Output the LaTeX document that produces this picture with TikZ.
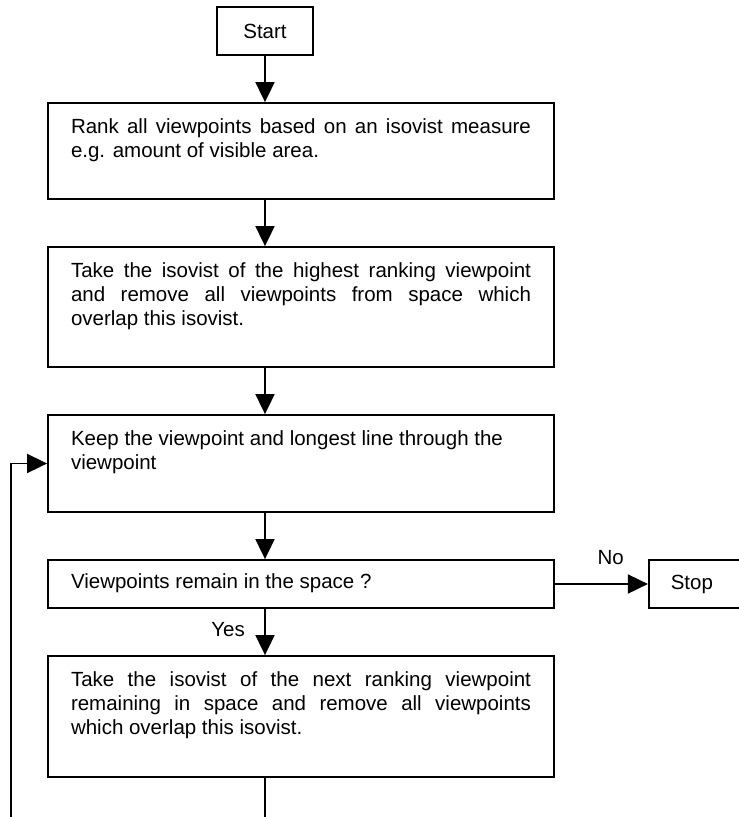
\documentclass[tikz,border=0pt]{standalone}
\usepackage{fontspec}
\setmainfont{Liberation Sans}
\usetikzlibrary{positioning,arrows.meta}

\newcommand{\boxtext}[2]{\parbox[t][#1][t]{460pt}{\hyphenpenalty=10000\tolerance=9999\hbadness=10000\strut #2}}

\begin{document}
\begin{tikzpicture}[x=1pt,y=-1pt,node distance=46.2pt,
    every node/.style={font=\fontsize{20.5pt}{24pt}\selectfont},
    stepbox/.style={draw,line width=1.8pt,inner xsep=23pt,inner ysep=13.2pt},
    flow/.style={line width=1.8pt,-{Triangle[length=20pt,width=19pt]}}]
    \clip (0,0) rectangle (739,817);
    % Process boxes
    \node[draw,line width=1.8pt,minimum width=96pt,minimum height=48pt] (start) at (265,31) {Start};
    \node[stepbox,below=of start,xshift=36pt] (rank) {\boxtext{69.6pt}{Rank all viewpoints based on an isovist measure e.g. amount of visible area.}};
    \node[stepbox,below=of rank] (take) {\boxtext{93.6pt}{Take the isovist of the highest ranking viewpoint\linebreak and remove all viewpoints from space which\linebreak overlap this isovist.}};
    \node[stepbox,below=of take] (keep) {\boxtext{70.6pt}{\raggedright Keep the viewpoint and longest line through the viewpoint}};
    \node[stepbox,inner ysep=12pt,below=of keep] (remain) {\boxtext{24pt}{Viewpoints remain in the space ?}};
    \node[stepbox,below=of remain] (next) {\boxtext{94.6pt}{Take the isovist of the next ranking viewpoint\linebreak remaining in space and remove all viewpoints\linebreak which overlap this isovist.}};
    \node[draw,line width=1.8pt,right=93pt of remain,minimum height=48pt,text width=56pt,inner xsep=22pt] (stop) {Stop};

    % Connectors
    \draw[flow] (start) -- (start |- rank.north);
    \draw[flow] (rank.south -| start) -- (take.north -| start);
    \draw[flow] (take.south -| start) -- (keep.north -| start);
    \draw[flow] (keep.south -| start) -- (remain.north -| start);
    \draw[flow] (remain) -- node[above=15pt,pos=0.6]{No} (stop);
    \draw[flow] (remain.south -| start) -- node[left=16pt,pos=0.45]{Yes} (next.north -| start);
    \draw[flow] (next.south -| start) -- ++(0,60) -| ([xshift=-36pt]keep.west) -- (keep.west);  % loop back
\end{tikzpicture}
\end{document}
